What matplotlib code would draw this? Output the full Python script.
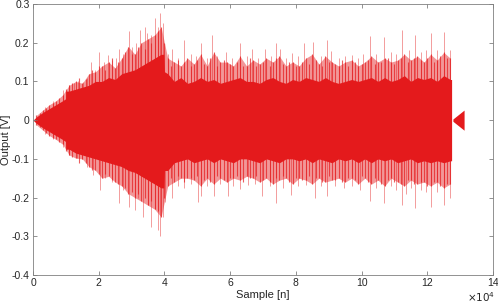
import numpy as np
import matplotlib
matplotlib.use("Agg")
import matplotlib.pyplot as plt

plt.rcParams['font.family'] = ['Liberation Sans', 'DejaVu Sans']

RED = '#e41a1c'

# x positions in units of 1e4 samples
core_x = [0.0, 0.1, 0.3, 0.5, 0.7, 0.9, 0.99, 1.0,
          1.1, 1.3, 1.5, 1.7, 1.9, 2.1, 2.3, 2.5, 2.7, 2.9,
          3.1, 3.3, 3.5, 3.7, 3.9, 3.98, 4.0,
          4.1, 4.3, 4.5, 4.7, 4.9, 5.1, 5.3, 5.5, 5.7, 5.9,
          6.1, 6.3, 6.5, 6.7, 6.9, 7.1, 7.3, 7.5, 7.7, 7.9,
          8.1, 8.3, 8.5, 8.7, 8.9, 9.1, 9.3, 9.5, 9.7, 9.9,
          10.1, 10.3, 10.5, 10.7, 10.9, 11.1, 11.3, 11.5, 11.7, 11.9,
          12.1, 12.3, 12.5, 12.7, 12.74]
# Dense (saturated) core edges
core_hi = [0.0, 0.008, 0.02, 0.03, 0.04, 0.05, 0.055, 0.075,
           0.075, 0.08, 0.085, 0.09, 0.1, 0.1, 0.11, 0.105, 0.12, 0.125,
           0.13, 0.14, 0.15, 0.16, 0.17, 0.17, 0.125,
           0.12, 0.1, 0.11, 0.095, 0.1, 0.11, 0.1, 0.105, 0.095, 0.1,
           0.105, 0.11, 0.1, 0.1, 0.095, 0.105, 0.11, 0.1, 0.095, 0.105,
           0.1, 0.11, 0.105, 0.1, 0.11, 0.1, 0.095, 0.1, 0.105, 0.1,
           0.105, 0.11, 0.1, 0.11, 0.1, 0.105, 0.115, 0.1, 0.11, 0.105,
           0.11, 0.1, 0.115, 0.105, 0.105]
core_lo = [0.0, -0.008, -0.02, -0.03, -0.04, -0.05, -0.055, -0.075,
           -0.075, -0.085, -0.09, -0.095, -0.1, -0.105, -0.11, -0.115, -0.12, -0.13,
           -0.135, -0.145, -0.155, -0.165, -0.175, -0.175, -0.13,
           -0.13, -0.11, -0.105, -0.1, -0.11, -0.105, -0.1, -0.11, -0.1, -0.105,
           -0.11, -0.1, -0.1, -0.105, -0.11, -0.1, -0.105, -0.11, -0.1, -0.1,
           -0.105, -0.1, -0.11, -0.1, -0.105, -0.11, -0.1, -0.105, -0.1, -0.11,
           -0.1, -0.11, -0.1, -0.105, -0.1, -0.11, -0.105, -0.1, -0.11, -0.105,
           -0.11, -0.105, -0.11, -0.105, -0.105]

# Lighter fringe lines, first set
fringe_x = [0.1, 0.3, 0.5, 0.7, 0.9, 1.1, 1.3, 1.5, 1.7, 1.9,
            2.1, 2.3, 2.5, 2.7, 2.9, 3.1, 3.3, 3.5, 3.7, 3.9,
            4.1, 4.3, 4.5, 4.7, 4.9, 5.1, 5.3, 5.5, 5.7, 5.9,
            6.1, 6.3, 6.5, 6.7, 6.9, 7.1, 7.3, 7.5, 7.7, 7.9,
            8.1, 8.3, 8.5, 8.7, 8.9, 9.1, 9.3, 9.5, 9.7, 9.9,
            10.1, 10.3, 10.5, 10.7, 10.9, 11.1, 11.3, 11.5, 11.7, 11.9,
            12.1, 12.3, 12.5, 12.7]
fringe_hi = [0.012, 0.026, 0.04, 0.05, 0.065, 0.09, 0.1, 0.095, 0.12, 0.125,
             0.14, 0.15, 0.135, 0.16, 0.19, 0.17, 0.2, 0.21, 0.22, 0.24,
             0.16, 0.15, 0.14, 0.16, 0.145, 0.17, 0.14, 0.175, 0.15, 0.15,
             0.14, 0.165, 0.14, 0.155, 0.145, 0.16, 0.15, 0.165, 0.14, 0.15,
             0.14, 0.16, 0.17, 0.145, 0.165, 0.15, 0.14, 0.15, 0.155, 0.14,
             0.15, 0.165, 0.15, 0.16, 0.15, 0.155, 0.17, 0.155, 0.165, 0.15,
             0.17, 0.155, 0.175, 0.16]
fringe_lo = [-0.012, -0.026, -0.04, -0.05, -0.062, -0.09, -0.098, -0.1, -0.12, -0.13,
             -0.15, -0.145, -0.16, -0.17, -0.19, -0.2, -0.21, -0.22, -0.23, -0.25,
             -0.17, -0.16, -0.15, -0.15, -0.155, -0.17, -0.15, -0.165, -0.15, -0.16,
             -0.15, -0.155, -0.145, -0.15, -0.16, -0.15, -0.165, -0.155, -0.15, -0.165,
             -0.15, -0.155, -0.165, -0.15, -0.16, -0.155, -0.15, -0.16, -0.15, -0.165,
             -0.15, -0.165, -0.155, -0.17, -0.15, -0.16, -0.17, -0.155, -0.165, -0.16,
             -0.17, -0.16, -0.175, -0.165]

# Lighter fringe lines, second set
fringe2_x = [0.2, 0.4, 0.6, 0.8, 1.0, 1.2, 1.4, 1.6, 1.8, 2.0,
             2.2, 2.4, 2.6, 2.8, 3.0, 3.2, 3.4, 3.6, 3.8, 4.0,
             4.2, 4.4, 4.6, 4.8, 5.0, 5.2, 5.4, 5.6, 5.8, 6.0,
             6.2, 6.4, 6.6, 6.8, 7.0, 7.2, 7.4, 7.6, 7.8, 8.0,
             8.2, 8.4, 8.6, 8.8, 9.0, 9.2, 9.4, 9.6, 9.8, 10.0,
             10.2, 10.4, 10.6, 10.8, 11.0, 11.2, 11.4, 11.6, 11.8, 12.0,
             12.2, 12.4, 12.6]
fringe2_hi = [0.018, 0.032, 0.045, 0.058, 0.08, 0.095, 0.11, 0.105, 0.13, 0.14,
              0.13, 0.16, 0.15, 0.175, 0.17, 0.19, 0.185, 0.2, 0.23, 0.2,
              0.14, 0.155, 0.15, 0.14, 0.155, 0.145, 0.16, 0.14, 0.155, 0.145,
              0.15, 0.14, 0.16, 0.14, 0.15, 0.14, 0.16, 0.145, 0.15, 0.14,
              0.15, 0.145, 0.155, 0.14, 0.15, 0.145, 0.155, 0.14, 0.15, 0.145,
              0.155, 0.145, 0.15, 0.16, 0.145, 0.16, 0.15, 0.16, 0.155, 0.16,
              0.15, 0.165, 0.16]
fringe2_lo = [-0.018, -0.032, -0.045, -0.056, -0.08, -0.095, -0.11, -0.11, -0.13, -0.14,
              -0.14, -0.155, -0.165, -0.175, -0.185, -0.19, -0.2, -0.21, -0.235, -0.2,
              -0.15, -0.145, -0.16, -0.15, -0.145, -0.155, -0.16, -0.145, -0.155, -0.15,
              -0.145, -0.16, -0.15, -0.145, -0.155, -0.16, -0.15, -0.145, -0.16, -0.15,
              -0.155, -0.145, -0.15, -0.16, -0.145, -0.155, -0.16, -0.15, -0.155, -0.145,
              -0.16, -0.15, -0.165, -0.155, -0.16, -0.165, -0.155, -0.165, -0.16, -0.17,
              -0.16, -0.17, -0.165]

# Individual upper spikes
up_x = [0.35, 0.6, 0.92, 1.1, 1.25, 1.38, 1.53, 1.65, 1.77, 1.9, 2.02, 2.15, 2.27, 2.4, 2.52,
        2.63, 2.75, 2.91, 3.0, 3.13, 3.26, 3.41, 3.48, 3.6, 3.71, 3.8, 3.87, 3.96, 4.1, 4.22,
        4.4, 4.6, 4.8, 4.95, 5.11, 5.3, 5.44, 5.6, 5.86, 6.05, 6.3, 6.5, 6.68, 6.85, 7.06,
        7.25, 7.41, 7.51, 7.7, 7.87, 8.05, 8.24, 8.53, 8.75, 8.96, 9.08, 9.3, 9.5, 9.7, 9.9,
        10.05, 10.25, 10.45, 10.68, 10.9, 11.05, 11.24, 11.45, 11.63, 11.8, 11.95, 12.1, 12.3,
        12.51, 12.7]
up_y = [0.035, 0.05, 0.079, 0.09, 0.095, 0.10, 0.099, 0.11, 0.151, 0.13, 0.177, 0.15, 0.168, 0.155, 0.16,
        0.183, 0.17, 0.23, 0.19, 0.2, 0.234, 0.241, 0.224, 0.22, 0.265, 0.24, 0.277, 0.25, 0.17, 0.185,
        0.16, 0.208, 0.17, 0.165, 0.198, 0.16, 0.22, 0.165, 0.177, 0.16, 0.198, 0.165, 0.185, 0.16, 0.183,
        0.165, 0.198, 0.185, 0.16, 0.174, 0.165, 0.198, 0.202, 0.165, 0.207, 0.178, 0.16, 0.165, 0.168, 0.16,
        0.17, 0.217, 0.17, 0.215, 0.175, 0.17, 0.233, 0.18, 0.22, 0.175, 0.18, 0.224, 0.18,
        0.228, 0.18]

# Individual lower spikes
lo_x = [0.35, 0.6, 0.92, 1.1, 1.33, 1.5, 1.65, 1.84, 2.04, 2.2, 2.4, 2.63, 2.75, 2.91, 3.09,
        3.2, 3.36, 3.5, 3.59, 3.7, 3.79, 3.87, 3.95, 4.01, 4.22, 4.4, 4.6, 4.8, 5.03, 5.11,
        5.3, 5.52, 5.7, 5.92, 6.1, 6.3, 6.55, 6.75, 6.98, 7.2, 7.41, 7.6, 7.84, 8.05, 8.32,
        8.58, 8.75, 8.95, 9.2, 9.45, 9.7, 9.95, 10.25, 10.45, 10.68, 10.9, 11.05, 11.22, 11.35,
        11.5, 11.63, 11.8, 11.95, 12.1, 12.3, 12.51, 12.68]
lo_y = [-0.035, -0.05, -0.069, -0.09, -0.098, -0.1, -0.12, -0.142, -0.181, -0.15, -0.16, -0.215, -0.18, -0.224, -0.233,
        -0.2, -0.25, -0.22, -0.276, -0.23, -0.285, -0.30, -0.25, -0.211, -0.202, -0.17, -0.175, -0.165, -0.211, -0.196,
        -0.17, -0.196, -0.165, -0.197, -0.17, -0.177, -0.168, -0.165, -0.196, -0.17, -0.213, -0.175, -0.194, -0.17, -0.168,
        -0.202, -0.17, -0.197, -0.17, -0.175, -0.17, -0.18, -0.209, -0.175, -0.213, -0.17, -0.18, -0.22, -0.192,
        -0.175, -0.228, -0.18, -0.185, -0.224, -0.185, -0.22, -0.2]

# Small trailing burst
burst_x  = [12.78, 13.12, 13.12]
burst_hi = [0.003, 0.026, 0.0]
burst_lo = [-0.003, -0.026, 0.0]

x_ticks = [0, 2, 4, 6, 8, 10, 12, 14]
y_ticks = [-0.4, -0.3, -0.2, -0.1, 0, 0.1, 0.2, 0.3]
y_tick_labels = ['-0.4', '-0.3', '-0.2', '-0.1', '0', '0.1', '0.2', '0.3']

fig = plt.figure(figsize=(4.98, 3.06), dpi=100)
ax = fig.add_axes([33/498, 31/306, 460/498, 271/306])

s = 1e4
ax.vlines(np.array(up_x) * s, 0, up_y, color=RED, alpha=0.5, linewidth=0.6)
ax.vlines(np.array(lo_x) * s, lo_y, 0, color=RED, alpha=0.5, linewidth=0.6)
fx = np.array(fringe_x) * s
fx2 = np.array(fringe2_x) * s
ax.fill_between(fx, fringe_lo, fringe_hi, color=RED, alpha=0.45, linewidth=0)
ax.vlines(fx, 0, fringe_hi, color=RED, alpha=0.7, linewidth=0.8)
ax.vlines(fx, fringe_lo, 0, color=RED, alpha=0.7, linewidth=0.8)
ax.vlines(fx2, 0, fringe2_hi, color=RED, alpha=0.7, linewidth=0.8)
ax.vlines(fx2, fringe2_lo, 0, color=RED, alpha=0.7, linewidth=0.8)
ax.fill_between(np.array(core_x) * s, core_lo, core_hi, color=RED, linewidth=0)
ax.fill_between(np.array(burst_x) * s, burst_lo, burst_hi, color=RED, linewidth=0)

ax.set_xlim(0, 14e4)
ax.set_ylim(-0.4, 0.3)
ax.set_xticks(np.array(x_ticks) * s)
ax.set_xticklabels([str(t) for t in x_ticks])
ax.set_yticks(y_ticks)
ax.set_yticklabels(y_tick_labels)

axcol = '#262626'
for sp in ax.spines.values():
    sp.set_color('#808080')
    sp.set_linewidth(0.6)
ax.tick_params(direction='in', length=3, width=0.6, color='#808080',
               labelsize=7.5, labelcolor=axcol, top=True, right=True, pad=2.5)

ax.set_xlabel('Sample [n]', fontsize=8, color=axcol, labelpad=1)
ax.set_ylabel('Output [V]', fontsize=8, color=axcol)
ax.yaxis.set_label_coords(-0.048, 0.5)
ax.text(1.005, -0.1, r'$\times10^4$', transform=ax.transAxes, ha='right', va='baseline',
        fontsize=7.5, color=axcol)

fig.savefig('out.png', dpi=100)
